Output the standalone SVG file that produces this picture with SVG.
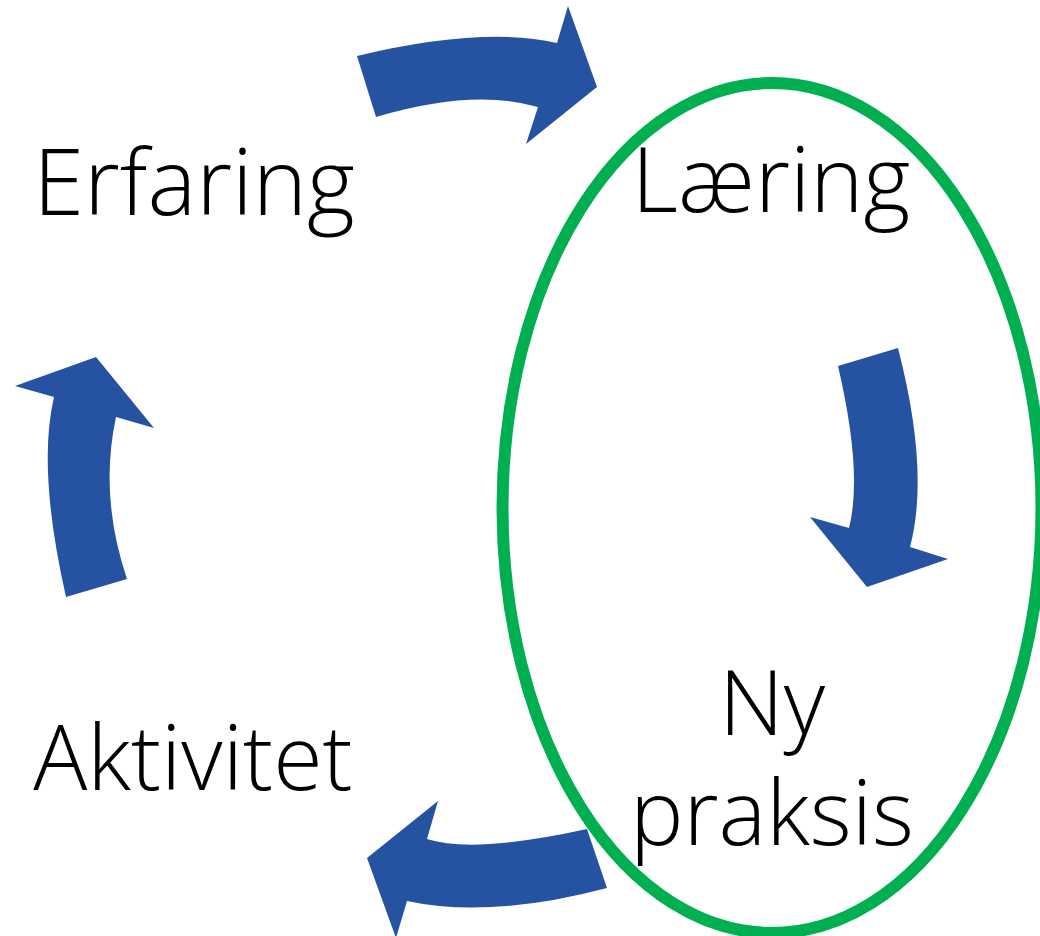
<svg xmlns="http://www.w3.org/2000/svg" width="1040" height="936" viewBox="0 0 1040 936">
<style>
.lbl{font-family:"Open Sans","Noto Sans","Liberation Sans",sans-serif;font-weight:300;font-size:90px;fill:#000;text-anchor:middle}
.arr{fill:#2653A1}
</style>
<rect width="1040" height="936" fill="#fff"/>
<g id="ellipse">
<ellipse cx="772" cy="508" rx="269.5" ry="425" fill="none" stroke="#00B050" stroke-width="12"/>
</g>
<g id="connectors">
<path class="arr" d="M357,56 Q483,26 557,43 L568,6 L597,87 L526,144 L538,107 Q473,88 376,117 Z"/>
<path class="arr" d="M838,366 L898,348 Q930,472 910,547 L948,559 L867,587 L810,517 L849,528 Q863,473 838,366 Z"/>
<path class="arr" d="M587,829 L607,888 Q490,919 407,901 L396,938 L367,858 L438,801 L427,839 Q473,854 587,829 Z"/>
<path class="arr" d="M66,597 L127,579 Q99,496 116,417 L154,428 L96,357 L15,386 L54,397 Q37,469 66,597 Z"/>
</g>
<g id="node-erfaring"><text class="lbl" x="194" y="215" style="font-size:92px">Erfaring</text></g>
<g id="node-laering"><text class="lbl" x="771" y="212">Læring</text></g>
<g id="node-nypraksis"><text class="lbl" x="772" y="735">Ny</text><text class="lbl" x="772" y="845">praksis</text></g>
<g id="node-aktivitet"><text class="lbl" x="193" y="790">Aktivitet</text></g>
</svg>
